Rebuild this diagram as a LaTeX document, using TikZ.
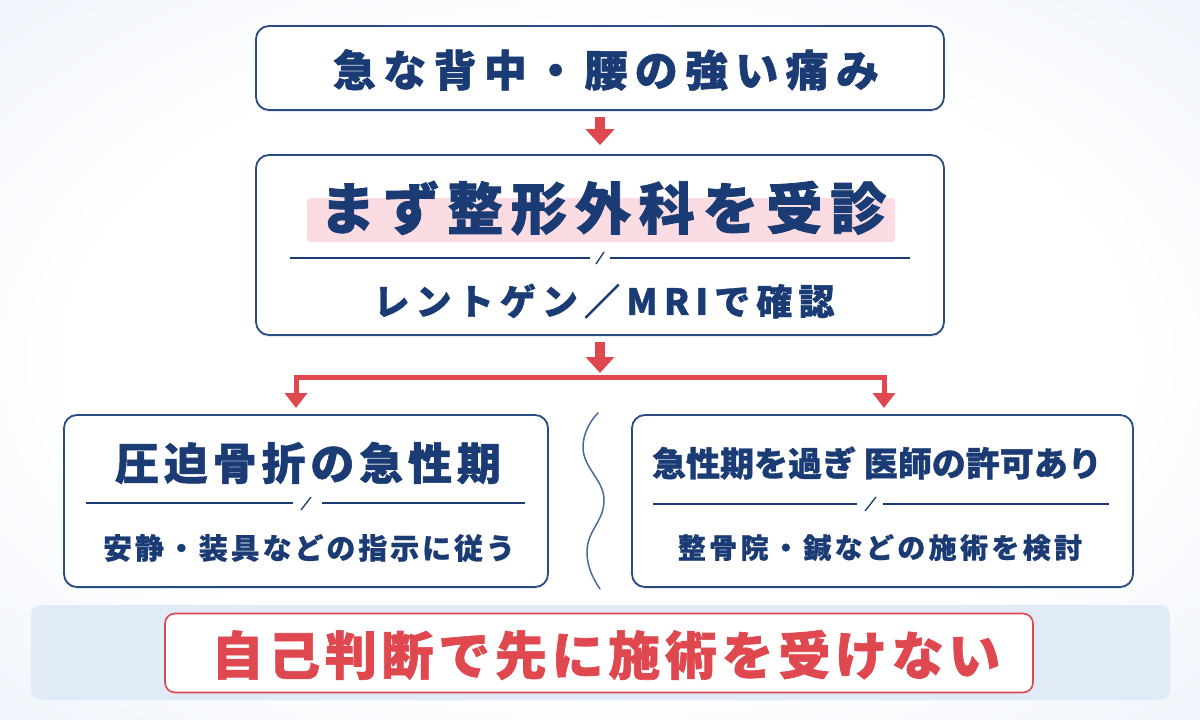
\documentclass[tikz,border=0pt]{standalone}
\usepackage{fontspec}
\setmainfont{Noto Sans CJK JP}
\usetikzlibrary{arrows.meta,shadows}
\definecolor{navy}{HTML}{1B3B74}
\definecolor{boxline}{HTML}{2A4B84}
\definecolor{redc}{HTML}{E0484F}
\definecolor{pinkhl}{HTML}{FBDCE3}
\definecolor{bgmid}{HTML}{EDF2FA}
\definecolor{bgout}{HTML}{DCE7F6}
\definecolor{bandc}{HTML}{E1EAF7}
\definecolor{wavec}{HTML}{4B6A9B}
\pgfdeclareradialshading{vign}{\pgfpoint{0bp}{0bp}}{color(0bp)=(white); color(22bp)=(white); color(38bp)=(bgmid); color(50bp)=(bgout); color(75bp)=(bgout)}
\newcommand{\jfont}[3]{\fontsize{#1}{#1}\selectfont\bfseries\addfontfeature{LetterSpace=#2,FakeBold=#3}}
\begin{document}
\begin{tikzpicture}[x=1pt,y=-1pt,
  card/.style={draw=boxline, line width=1.8pt, fill=white, rounded corners=13pt, inner sep=0pt,
    drop shadow={shadow xshift=0pt, shadow yshift=-2pt, opacity=0.10, fill=navy}},
  redcard/.style={draw=redc, line width=1.6pt, fill=white, rounded corners=10pt, inner sep=0pt},
  txt/.style={text=navy, inner sep=0pt, anchor=center},
  rule/.style={draw=navy, line width=1.3pt},
  bigarrow/.style={draw=redc, line width=10pt, -{Triangle[width=28pt,length=16pt]}},
  branch/.style={draw=redc, line width=5pt, line join=miter, -{Triangle[width=22pt,length=15pt]}},
]
\useasboundingbox (0,0) rectangle (1200,720);
\shade[shading=vign] (0,0) rectangle (1200,720);

% top box
\node[card, minimum width=688pt, minimum height=84pt] (top) at (600,68) {};
\node[txt, font=\jfont{43}{17}{1.2}] (t1) at (606,70) {急な背中・腰の強い痛み};

% second box
\node[card, minimum width=688pt, minimum height=180pt] (mid) at (600,245) {};
\node[fill=pinkhl, rounded corners=3pt, minimum width=588pt, minimum height=44pt, inner sep=0pt] (hl) at (601,220) {};
\node[txt, font=\jfont{56}{14}{1.5}] (t2) at (603,208) {まず整形外科を受診};
\draw[rule] (290,258) -- (590,258);
\draw[rule] (596,264) -- (604,252);
\draw[rule] (610,258) -- (910,258);
\node[txt, font=\jfont{36}{17}{1}] (t3) at (604,301) {レントゲン／MRIで確認};

% left / right boxes
\node[card, minimum width=484pt, minimum height=172pt] (left) at (306,501) {};
\node[card, minimum width=501pt, minimum height=172pt] (right) at (882.5,501) {};

\node[txt, font=\jfont{44}{11}{1.2}] (t4) at (308,463) {圧迫骨折の急性期};
\draw[rule] (86,503) -- (293,503);
\draw[rule] (301,510) -- (311,497);
\draw[rule] (322,503) -- (525,503);
\node[txt, font=\jfont{29}{10}{0.8}] (t5) at (309,548) {安静・装具などの指示に従う};

\node[txt, font=\jfont{34}{0}{1}] (t6) at (877,463) {急性期を過ぎ 医師の許可あり};
\draw[rule] (653,504) -- (857,504);
\draw[rule] (865,511) -- (876,497);
\draw[rule] (883,504) -- (1109,504);
\node[txt, font=\jfont{28}{12}{0.8}] (t7) at (880,548) {整骨院・鍼などの施術を検討};

% wavy separator
\draw[wavec, line width=1.5pt, line cap=round]
  (598,413) .. controls (589,422) and (583,435) .. (583,447)
  .. controls (583,468) and (604,480) .. (604,500)
  .. controls (604,522) and (587,530) .. (587,552)
  .. controls (587,568) and (594,580) .. (600,589);

% arrows
\coordinate (split) at (600,377);
\coordinate (lend) at (296,408);
\coordinate (rend) at (884,408);
\draw[bigarrow, shorten <=6pt, shorten >=9pt] (top.south) -- (mid.north);
\draw[bigarrow, shorten <=6pt, shorten >=4pt] (mid.south) -- (split);
\draw[branch] (split) -| (lend);
\draw[branch] (split) -| (rend);

% bottom band
\node[fill=bandc, rounded corners=10pt, minimum width=1139pt, minimum height=95pt, inner sep=0pt] (band) at (600.5,652.5) {};
\node[redcard, minimum width=868pt, minimum height=79pt] (warn) at (599,653) {};
\node[inner sep=0pt, text=redc, font=\jfont{52}{9}{1.2}] (t8) at (606,655) {自己判断で先に施術を受けない};
\end{tikzpicture}
\end{document}
